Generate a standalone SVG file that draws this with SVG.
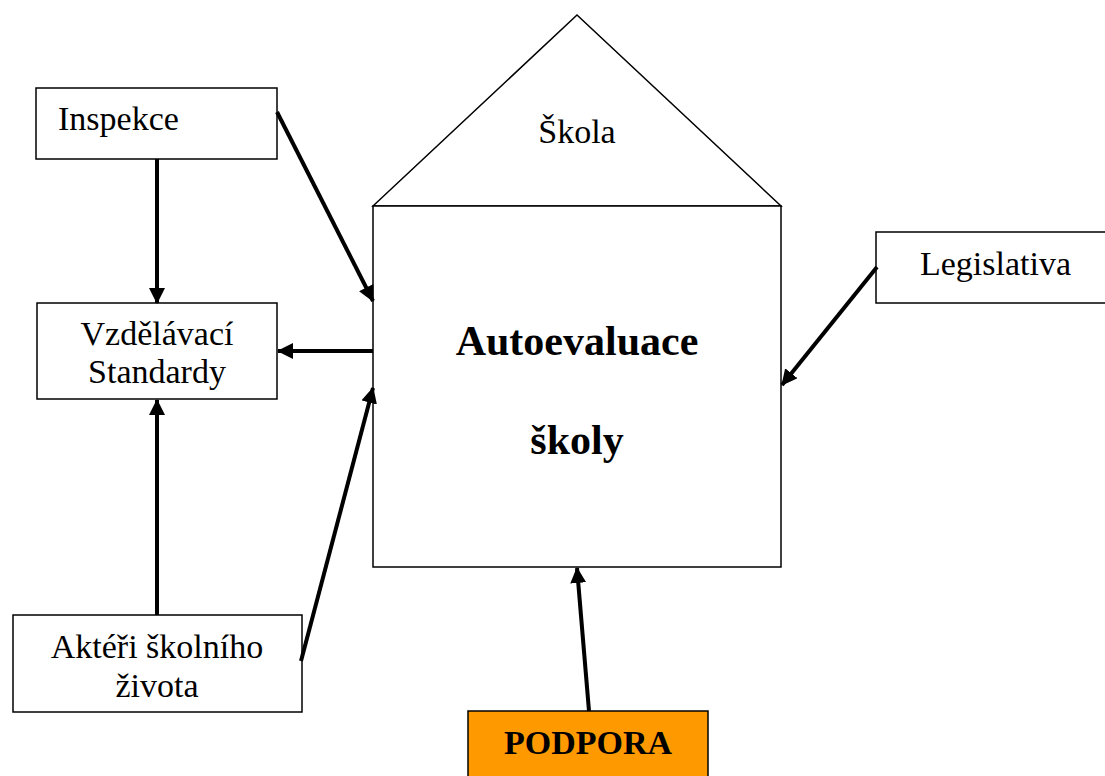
<svg xmlns="http://www.w3.org/2000/svg" width="1105" height="776" viewBox="0 0 1105 776">
  <style>
    .box { fill: #ffffff; stroke: #000000; stroke-width: 1.5; }
    .txt { font-family: "Liberation Serif", "Times New Roman", serif; font-size: 34px; fill: #000000; }
    .bold { font-family: "Liberation Serif", "Times New Roman", serif; font-size: 42px; font-weight: bold; fill: #000000; }
    .conn { stroke: #000000; stroke-width: 4; fill: none; marker-end: url(#arrow); }
  </style>
  <defs>
    <marker id="arrow" markerUnits="userSpaceOnUse" markerWidth="16" markerHeight="16" refX="15" refY="8" orient="auto" viewBox="0 0 16 16">
      <path d="M0,0 L16,8 L0,16 z" fill="#000000"/>
    </marker>
  </defs>
  <rect width="1105" height="776" fill="#ffffff"/>

  <g id="skola">
    <polygon class="box" points="373,206 577,15 781,206"/>
    <rect class="box" x="373" y="206" width="408" height="361"/>
    <text class="txt" x="577" y="143" text-anchor="middle">Škola</text>
    <text class="bold" x="577" y="355" text-anchor="middle">Autoevaluace</text>
    <text class="bold" x="577" y="454" text-anchor="middle">školy</text>
  </g>

  <g id="inspekce">
    <rect class="box" x="36" y="88" width="241" height="71"/>
    <text class="txt" x="58" y="130">Inspekce</text>
  </g>

  <g id="standardy">
    <rect class="box" x="37" y="303" width="240" height="96"/>
    <text class="txt" x="157" y="345" text-anchor="middle">Vzdělávací</text>
    <text class="txt" x="157" y="383" text-anchor="middle">Standardy</text>
  </g>

  <g id="akteri">
    <rect class="box" x="13" y="615" width="289" height="97"/>
    <text class="txt" x="157" y="658" text-anchor="middle">Aktéři školního</text>
    <text class="txt" x="157" y="697" text-anchor="middle">života</text>
  </g>

  <g id="legislativa">
    <rect class="box" x="876" y="232" width="232" height="71"/>
    <text class="txt" x="920" y="275">Legislativa</text>
  </g>

  <g id="podpora">
    <rect x="468" y="711" width="240" height="70" fill="#ff9900" stroke="#000000" stroke-width="1.5"/>
    <text class="bold" x="588" y="754" text-anchor="middle" style="font-size:34px">PODPORA</text>
  </g>

  <g id="connectors">
    <line class="conn" x1="157" y1="159" x2="157" y2="303"/>
    <line class="conn" x1="277" y1="112" x2="373" y2="301"/>
    <line class="conn" x1="373" y1="351" x2="278" y2="351"/>
    <line class="conn" x1="157" y1="615" x2="157" y2="400"/>
    <line class="conn" x1="301" y1="661" x2="373" y2="388"/>
    <line class="conn" x1="877" y1="267" x2="782" y2="385"/>
    <line class="conn" x1="589" y1="711" x2="577" y2="568"/>
  </g>
</svg>
